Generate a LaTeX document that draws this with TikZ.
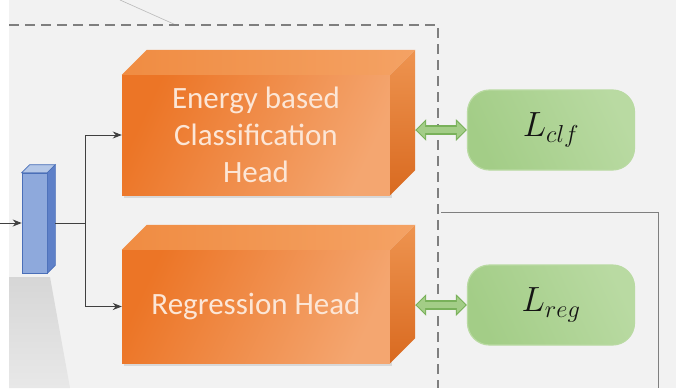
\RequirePackage{fix-cm}
\documentclass[tikz,border=0pt]{standalone}
\usepackage{fontspec}
\newfontfamily\headfont{Carlito}
\usetikzlibrary{arrows.meta,calc,shadows}

\definecolor{bgc}{HTML}{F2F2F2}
\definecolor{orfront}{HTML}{EC7526}
\definecolor{orlight}{HTML}{F4A670}
\definecolor{ortop}{HTML}{F08C42}
\definecolor{ortopl}{HTML}{F4A264}
\definecolor{orside}{HTML}{D96A20}
\definecolor{orsidel}{HTML}{EE9450}
\definecolor{headtxt}{HTML}{FCE6D6}
\definecolor{blfront}{HTML}{8EA9DC}
\definecolor{bltop}{HTML}{B4C7E7}
\definecolor{blside}{HTML}{5E80C8}
\definecolor{blline}{HTML}{4A6FB8}
\definecolor{grfill}{HTML}{A3CD87}
\definecolor{grlight}{HTML}{B9DAA2}
\definecolor{grdark}{HTML}{79B15A}
\definecolor{conn}{HTML}{404040}
\definecolor{frame}{HTML}{7F7F7F}

\tikzset{
  headbox/.style={inner sep=0pt, minimum width=268pt,
    left color=orfront, right color=orlight, shading angle=65,
    text=headtxt, align=center,
    drop shadow={opacity=0.22, shadow xshift=1.5pt, shadow yshift=-3pt},
    font=\headfont\fontsize{31}{37}\selectfont},
  topface/.style={left color=ortop, right color=ortopl},
  sideface/.style={top color=orsidel, bottom color=orside},
  lossbox/.style={rounded corners=22pt, minimum width=167pt, minimum height=80pt,
    left color=grfill, right color=grlight, shading angle=115,
    draw=grlight, line width=1.2pt, text=black!92,
    font=\fontsize{35}{40}\selectfont},
  feat/.style={fill=blfront, draw=blline, line width=0.6pt, inner sep=0pt,
    minimum width=25pt, minimum height=100pt},
  arr/.style={draw=conn, line width=0.9pt, -{Stealth[length=9pt,width=7pt]}},
  plain/.style={draw=conn, line width=0.9pt},
  dblout/.style={draw=grdark, line width=10pt,
    {Triangle[length=11pt,width=21pt]}-{Triangle[length=11pt,width=21pt]}},
  dblin/.style={draw=grfill, line width=6.5pt,
    {Triangle[length=8.5pt,width=16pt]}-{Triangle[length=8.5pt,width=16pt]}},
  dashframe/.style={draw=frame, line width=2pt, dash pattern=on 10pt off 6pt},
}

\begin{document}
\begin{tikzpicture}[x=1pt,y=-1pt]
  % canvas
  \useasboundingbox (0,0) rectangle (676,388);
  \fill[bgc] (0,0) rectangle (676,388);
  \fill[white] (0,0) rectangle (9,388);
  \draw[gray!55, line width=0.6pt] (120,0) -- (176,25);
  \shade[top color=gray!32, bottom color=gray!18] (9,277) -- (50,277) -- (70,388) -- (9,388) -- cycle;

  % dashed region border and the panel on the right
  \draw[dashframe] (9,25) -- (438,25) -- (438,388);
  \draw[frame, line width=1pt] (441,212) -- (658,212) -- (658,388);

  % feature block
  \node[feat] (feat) at (34.5,223) {};
  \fill[bltop, draw=blline, line width=0.6pt] (feat.north west) -- ++(8,-8) -- ($(feat.north east)+(8,-8)$) -- (feat.north east) -- cycle;
  \fill[blside, draw=blline, line width=0.6pt] (feat.north east) -- ++(8,-8) -- ($(feat.south east)+(8,-8)$) -- (feat.south east) -- cycle;

  % heads
  \node[headbox, minimum height=120pt] (cls) at (256,135) {Energy based\\Classification\\Head};
  \node[headbox, minimum height=113pt] (reg) at (256,306.5) {Regression Head};
  \foreach \h in {cls,reg}{
    \shade[topface] (\h.north west) -- ++(25,-25) -- ($(\h.north east)+(25,-25)$) -- (\h.north east) -- cycle;
    \shade[sideface] (\h.north east) -- ++(25,-25) -- ($(\h.south east)+(25,-25)$) -- (\h.south east) -- cycle;
    \path (\h.east) ++(25,0) coordinate (\h R);
  }

  % losses
  \node[lossbox] (lclf) at (551,130) {$L_{clf}$};
  \node[lossbox] (lreg) at (551,305) {$L_{reg}$};

  % connectors
  \coordinate (input) at (0,223);
  \draw[arr] (input) -- (feat.west);
  \draw[plain] ([xshift=8pt]feat.east) -- (85,223) coordinate (split);
  \draw[arr] (split) |- (cls.west);
  \draw[arr] (split) |- (reg.west);

  \draw[dblout] (lclf.west -| clsR) -- (lclf.west);
  \draw[dblin] ([xshift=1.5pt]lclf.west -| clsR) -- ([xshift=-1.5pt]lclf.west);
  \draw[dblout] (lreg.west -| regR) -- (lreg.west);
  \draw[dblin] ([xshift=1.5pt]lreg.west -| regR) -- ([xshift=-1.5pt]lreg.west);
\end{tikzpicture}
\end{document}
